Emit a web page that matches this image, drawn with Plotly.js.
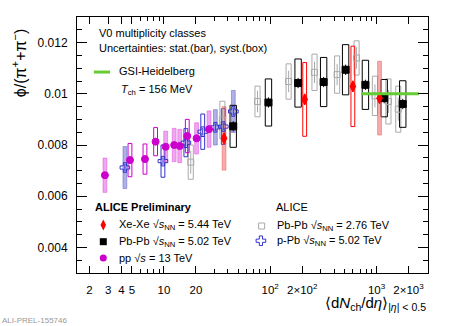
<!DOCTYPE html>
<html>
<head>
<meta charset="utf-8">
<script src="https://cdn.plot.ly/plotly-3.0.1.min.js"></script>
<style>
  html, body { margin: 0; padding: 0; background: #fff; }
  #chart { width: 451px; height: 326px; }
</style>
</head>
<body>
<div id="chart"></div>
<script>
// pp 13 TeV (V0M classes)
const ppX    = [2.79, 4.80, 6.64, 8.36, 10.4, 12.5, 14.1, 16.6, 20.3, 26.6];
const ppY    = [0.00682, 0.00741, 0.00745, 0.00813, 0.00793, 0.00800, 0.00796, 0.00835, 0.00826, 0.00862];
const ppStat = [0.0001, 0.0001, 0.0001, 0.0001, 0.0001, 0.0001, 0.0001, 0.0001, 0.0001, 0.0001];
const ppSys  = [0.00067, 0.00065, 0.00059, 0.00055, 0.00061, 0.00065, 0.00065, 0.00065, 0.00061, 0.00071];
const ppSysShaded = [true, false, false, false, true, true, true, false, true, true];

// p-Pb 5.02 TeV
const pPbX    = [4.3, 9.8, 16.1, 23.2, 30.5, 36.2, 45.0];
const pPbY    = [0.00712, 0.00737, 0.00809, 0.00852, 0.00869, 0.00872, 0.00931];
const pPbStat = [0.00015, 0.00015, 0.00015, 0.00015, 0.00015, 0.00015, 0.00015];
const pPbSys  = [0.00082, 0.00063, 0.00055, 0.00069, 0.00069, 0.00070, 0.00082];
const pPbSysShaded = [true, false, false, false, true, false, true];

// Pb-Pb 2.76 TeV
const pb276X    = [17.9, 35.5, 76, 149, 261, 426, 649, 966, 1294, 1601];
const pb276Y    = [0.00733, 0.00898, 0.00970, 0.01048, 0.01084, 0.01075, 0.01140, 0.00992, 0.00970, 0.00940];
const pb276Stat = [0.00045, 0.00045, 0.00042, 0.00042, 0.00042, 0.00042, 0.00042, 0.00045, 0.00045, 0.00045];
const pb276Sys  = [0.00067, 0.00073, 0.00060, 0.00069, 0.00071, 0.00073, 0.00067, 0.00077, 0.00088, 0.00090];

// Pb-Pb 5.02 TeV
const pb502X    = [44.9, 96.3, 183, 318, 512, 786, 1180, 1764];
const pb502Y    = [0.00873, 0.00966, 0.01042, 0.01046, 0.01094, 0.01035, 0.00983, 0.00960];
const pb502Stat = [0.0002, 0.0002, 0.0002, 0.0002, 0.0002, 0.0002, 0.0002, 0.0002];
const pb502Sys  = [0.00082, 0.00092, 0.00094, 0.00096, 0.00098, 0.00096, 0.00073, 0.00091];

// Xe-Xe 5.44 TeV
const xeX    = [36.8, 211, 599, 1067];
const xeY    = [0.00826, 0.00978, 0.01029, 0.00983];
const xeStat = [0.0002, 0.0002, 0.0002, 0.0002];
const xeSys  = [0.00124, 0.00144, 0.00157, 0.00144];
const xeSysShaded = [true, false, false, true];

// GSI-Heidelberg, T_ch = 156 MeV
const gsiX = [720, 2500];
const gsiY = [0.0100, 0.0100];

const FONT = 'Liberation Sans, Arial, sans-serif';
const MAGENTA = '#cc00cc', BLUE = '#3333cc', GRAY = '#aaaaaa', RED = '#ff0000';

// syst boxes: half width given in decades of the log axis
function sysBoxes(xs, ys, sys, hw, color, shaded, fillcolor) {
  return xs.map((x, i) => ({
    type: 'rect', xref: 'x', yref: 'y', layer: 'below',
    x0: x * Math.pow(10, -hw), x1: x * Math.pow(10, hw),
    y0: ys[i] - sys[i], y1: ys[i] + sys[i],
    line: { color: shaded && shaded[i] ? fillcolor : color, width: 1 },
    fillcolor: shaded && shaded[i] ? fillcolor : 'rgba(0,0,0,0)'
  }));
}

function series(xs, ys, stat, color, symbol, size, lineColor) {
  return {
    x: xs, y: ys, type: 'scatter', mode: 'markers', showlegend: false,
    error_y: { type: 'data', array: stat, visible: true, color: color, thickness: 1, width: 0 },
    marker: { symbol: symbol, size: size, color: color, line: { color: lineColor || color, width: 1 } }
  };
}

const traces = [
  series(pb276X, pb276Y, pb276Stat, GRAY, 'square-open', 6),
  series(pPbX, pPbY, pPbStat, BLUE, 'cross-open', 8),
  series(ppX, ppY, ppStat, MAGENTA, 'circle', 7),
  series(pb502X, pb502Y, pb502Stat, '#000000', 'square', 7),
  series(xeX, xeY, xeStat, RED, 'diamond-tall', 8),
  { x: gsiX, y: gsiY, type: 'scatter', mode: 'lines', showlegend: false,
    line: { color: '#66cc33', width: 3 } },
  // legend symbols on a hidden overlay axis
  { x: [0.0749], y: [0.1875], xaxis: 'x2', yaxis: 'y2', type: 'scatter', mode: 'markers', showlegend: false,
    marker: { symbol: 'diamond-tall', size: 8, color: RED } },
  { x: [0.0749], y: [0.1223], xaxis: 'x2', yaxis: 'y2', type: 'scatter', mode: 'markers', showlegend: false,
    marker: { symbol: 'square', size: 7, color: '#000000' } },
  { x: [0.0749], y: [0.0586], xaxis: 'x2', yaxis: 'y2', type: 'scatter', mode: 'markers', showlegend: false,
    marker: { symbol: 'circle', size: 7, color: MAGENTA } },
  { x: [0.526], y: [0.1836], xaxis: 'x2', yaxis: 'y2', type: 'scatter', mode: 'markers', showlegend: false,
    marker: { symbol: 'square-open', size: 6, color: GRAY, line: { color: GRAY, width: 1 } } },
  { x: [0.524], y: [0.126], xaxis: 'x2', yaxis: 'y2', type: 'scatter', mode: 'markers', showlegend: false,
    marker: { symbol: 'cross-open', size: 8, color: BLUE, line: { color: BLUE, width: 1 } } }
];

const shapes = [].concat(
  sysBoxes(pb276X, pb276Y, pb276Sys, 0.024, GRAY),
  sysBoxes(pPbX, pPbY, pPbSys, 0.018, BLUE, pPbSysShaded, 'rgba(80,80,200,0.45)'),
  sysBoxes(ppX, ppY, ppSys, 0.018, MAGENTA, ppSysShaded, 'rgba(220,60,220,0.45)'),
  sysBoxes(pb502X, pb502Y, pb502Sys, 0.03, '#000000'),
  sysBoxes(xeX, xeY, xeSys, 0.018, RED, xeSysShaded, 'rgba(240,90,90,0.5)'),
  [{ type: 'line', xref: 'paper', yref: 'paper', x0: 0.048, x1: 0.094, y0: 0.785, y1: 0.785,
     line: { color: '#66cc33', width: 3 } }]
);

const minorX = [];
[1, 10, 100, 1000].forEach(d => { for (let k = 1; k <= 9; k++) minorX.push(k * d); });

function note(text, x, y, size, extra) {
  return Object.assign({ text: text, x: x, y: y, xref: 'paper', yref: 'paper',
    xanchor: 'left', yanchor: 'middle', showarrow: false,
    font: { family: FONT, size: size, color: '#000' } }, extra || {});
}

const annotations = [
  note('V0 multiplicity classes', 0.057, 0.9375, 11),
  note('Uncertainties: stat.(bar), syst.(box)', 0.057, 0.879, 11),
  note('GSI-Heidelberg', 0.114, 0.789, 11),
  note('<i>T</i><sub>ch</sub> = 156 MeV', 0.12, 0.715, 11),
  note('<b>ALICE Preliminary</b>', 0.0456, 0.258, 11),
  note('ALICE', 0.561, 0.258, 11),
  note('Xe-Xe √<i>s</i><sub>NN</sub> = 5.44 TeV', 0.114, 0.1875, 11),
  note('Pb-Pb √<i>s</i><sub>NN</sub> = 5.02 TeV', 0.114, 0.1223, 11),
  note('pp √<i>s</i> = 13 TeV', 0.114, 0.0586, 11),
  note('Pb-Pb √<i>s</i><sub>NN</sub> = 2.76 TeV', 0.564, 0.1836, 11),
  note('p-Pb √<i>s</i><sub>NN</sub> = 5.02 TeV', 0.564, 0.126, 11),
  note('⟨d<i>N</i><sub>ch</sub>/d<i>η</i>⟩<sub>|<i>η</i>| &lt; 0.5</sub>', 1.0, -0.12, 15, { xanchor: 'right' }),
  note('ϕ/(π<sup>+</sup>+π<sup>−</sup>)', -0.165, 0.82, 16, { textangle: -90, xanchor: 'center' }),
  note('ALI-PREL-155746', -0.219, -0.184, 8, { font: { family: FONT, size: 8, color: '#999' } })
];

const layout = {
  width: 451, height: 326,
  margin: { l: 77, r: 23, t: 17, b: 53 },
  paper_bgcolor: '#fff', plot_bgcolor: '#fff',
  font: { family: FONT, size: 12, color: '#000' },
  showlegend: false,
  xaxis: {
    type: 'log', range: [0.183, 3.484],
    tickmode: 'array',
    tickvals: [2, 3, 4, 5, 10, 20, 100, 200, 1000, 2000],
    ticktext: ['2', '3', '4', '5', '10', '20', '10<sup>2</sup>', '2×10<sup>2</sup>', '10<sup>3</sup>', '2×10<sup>3</sup>'],
    ticks: 'inside', ticklen: 7, tickwidth: 1, tickcolor: '#000',
    minor: { tickmode: 'array', tickvals: minorX, ticks: 'inside', ticklen: 4, tickcolor: '#000', showgrid: false },
    showline: true, linecolor: '#000', linewidth: 1, mirror: 'allticks',
    showgrid: false, zeroline: false,
    tickfont: { family: FONT, size: 11.5 }, ticklabelstandoff: 6
  },
  yaxis: {
    range: [0.003, 0.013],
    tickmode: 'array',
    tickvals: [0.004, 0.006, 0.008, 0.010, 0.012],
    ticktext: ['0.004', '0.006', '0.008', '0.01', '0.012'],
    ticks: 'inside', ticklen: 10, tickwidth: 1, tickcolor: '#000',
    minor: { dtick: 0.0005, ticks: 'inside', ticklen: 5, tickcolor: '#000', showgrid: false },
    showline: true, linecolor: '#000', linewidth: 1, mirror: 'allticks',
    showgrid: false, zeroline: false,
    tickfont: { family: FONT, size: 12 }, ticklabelstandoff: 6
  },
  xaxis2: { overlaying: 'x', range: [0, 1], visible: false, fixedrange: true },
  yaxis2: { overlaying: 'y', range: [0, 1], visible: false, fixedrange: true },
  shapes: shapes,
  annotations: annotations
};

Plotly.newPlot('chart', traces, layout, { staticPlot: true, displayModeBar: false });
</script>
</body>
</html>
